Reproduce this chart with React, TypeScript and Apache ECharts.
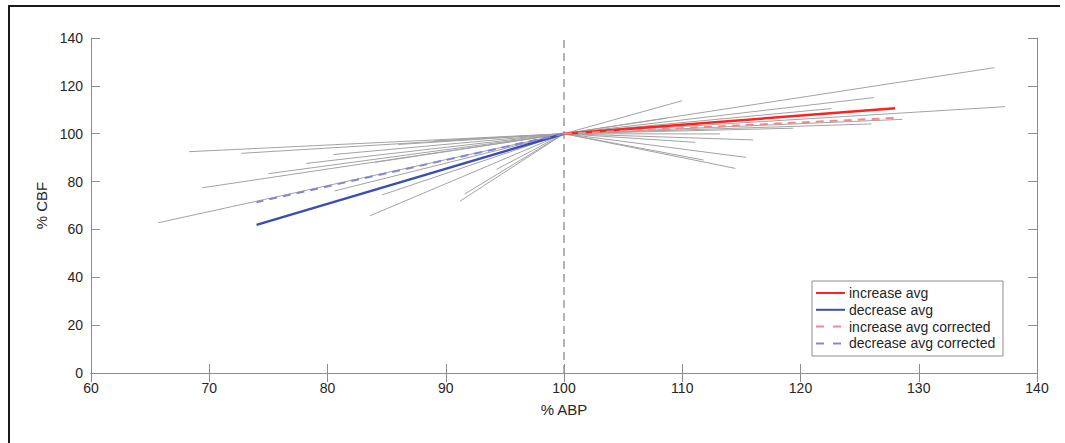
import React, { useEffect, useRef } from "react";
import * as echarts from "echarts";

// Common origin of every trace (% ABP, % CBF)
const origin: [number, number] = [100, 100];

// End points of individual traces where ABP decreased
const decreaseEnds: [number, number][] = [
  [68.3, 92.5],
  [72.7, 91.8],
  [80.5, 91.3],
  [78.2, 87.6],
  [75.0, 83.3],
  [69.4, 77.4],
  [65.7, 62.8],
  [80.6, 76.1],
  [83.6, 65.7],
  [84.6, 74.4],
  [91.2, 71.8],
  [91.6, 74.8],
  [94.3, 85.1],
  [84.0, 88.0],
  [86.0, 95.5],
  [89.0, 97.0],
];

// End points of individual traces where ABP increased
const increaseEnds: [number, number][] = [
  [110.0, 113.8],
  [136.4, 127.6],
  [126.2, 115.1],
  [122.6, 110.5],
  [137.3, 111.3],
  [128.6, 106.0],
  [126.0, 104.1],
  [119.4, 102.3],
  [113.2, 99.9],
  [116.0, 97.4],
  [111.1, 96.4],
  [115.4, 90.1],
  [114.5, 85.5],
  [111.8, 89.0],
  [108.7, 106.5],
];

// Group averages
const increaseAvg: [number, number] = [128.0, 110.6];
const decreaseAvg: [number, number] = [74.0, 61.9];
const increaseAvgCorrected: [number, number] = [128.0, 106.6];
const decreaseAvgCorrected: [number, number] = [74.0, 71.4];

const legendNames = [
  "increase avg",
  "decrease avg",
  "increase avg corrected",
  "decrease avg corrected",
];

const xTicks = { min: 60, max: 140, interval: 10 };
const yTicks = { min: 0, max: 140, interval: 20 };

const FONT = "'Liberation Sans', Arial, Helvetica, sans-serif";
const AXIS_COLOR = "#8c8c8c";
const TEXT_COLOR = "#262626";

const avgStyles = [
  { color: "#ff2020", dashed: false },
  { color: "#3b4cb4", dashed: false },
  { color: "#f28a8a", dashed: true },
  { color: "#8585d6", dashed: true },
];

export default function App() {
  const ref = useRef<HTMLDivElement>(null);

  useEffect(() => {
    if (!ref.current) return;
    const chart = echarts.init(ref.current, undefined, { renderer: "svg" });

    const traceSeries = [...decreaseEnds, ...increaseEnds].map((end, i) => ({
      type: "line",
      name: "trace" + i,
      data: [origin, end],
      symbol: "none",
      silent: true,
      lineStyle: { color: "#a3a3a3", width: 1 },
      z: 2,
    }));

    const avgEnds = [increaseAvg, decreaseAvg, increaseAvgCorrected, decreaseAvgCorrected];
    const avgSeries = avgEnds.map((end, i) => ({
      type: "line",
      name: legendNames[i],
      data: [origin, end],
      symbol: "none",
      silent: true,
      lineStyle: {
        color: avgStyles[i].color,
        width: avgStyles[i].dashed ? 2 : 2.5,
        type: avgStyles[i].dashed ? [8, 6] : "solid",
      },
      z: 4,
    }));

    // Boxed legend in the lower right of the plot
    const lgX = 812;
    const lgY = 281;
    const lgRow = 16.8;
    const legendGraphics: any[] = [
      {
        type: "rect",
        shape: { x: lgX, y: lgY, width: 191, height: 75 },
        style: { fill: "#ffffff", stroke: AXIS_COLOR, lineWidth: 1 },
        z: 10,
        silent: true,
      },
    ];
    legendNames.forEach((name, i) => {
      const cy = lgY + 12 + i * lgRow;
      legendGraphics.push({
        type: "line",
        shape: { x1: lgX + 4, y1: cy, x2: lgX + 33, y2: cy },
        style: {
          stroke: avgStyles[i].color,
          lineWidth: 2,
          lineDash: avgStyles[i].dashed ? [8, 9] : null,
        },
        z: 11,
        silent: true,
      });
      legendGraphics.push({
        type: "text",
        x: lgX + 37,
        y: cy,
        style: {
          text: name,
          fontSize: 14,
          fontFamily: FONT,
          fill: TEXT_COLOR,
          verticalAlign: "middle",
          align: "left",
        },
        z: 11,
        silent: true,
      });
    });

    const axisCommon = {
      type: "value",
      axisLine: { show: true, lineStyle: { color: AXIS_COLOR, width: 1 } },
      axisTick: {
        show: true,
        inside: true,
        length: 9,
        lineStyle: { color: AXIS_COLOR, width: 1 },
      },
      splitLine: { show: false },
    };

    chart.setOption({
      animation: false,
      backgroundColor: "#ffffff",
      grid: { left: 91, top: 38, width: 946, height: 335, containLabel: false },
      xAxis: [
        {
          ...axisCommon,
          ...xTicks,
          position: "bottom",
          axisLabel: {
            margin: 8,
            fontSize: 14,
            color: TEXT_COLOR,
            fontFamily: FONT,
          },
          name: "% ABP",
          nameLocation: "middle",
          nameGap: 29,
          nameTextStyle: { fontSize: 15, color: TEXT_COLOR, fontFamily: FONT },
        },
        {
          ...axisCommon,
          ...xTicks,
          position: "top",
          axisLabel: { show: false },
        },
      ],
      yAxis: [
        {
          ...axisCommon,
          ...yTicks,
          position: "left",
          axisLabel: {
            margin: 8,
            fontSize: 14,
            color: TEXT_COLOR,
            fontFamily: FONT,
          },
          name: "% CBF",
          nameLocation: "middle",
          nameRotate: 90,
          nameGap: 42,
          nameTextStyle: { fontSize: 15, color: TEXT_COLOR, fontFamily: FONT },
        },
        {
          ...axisCommon,
          ...yTicks,
          position: "right",
          axisLabel: { show: false },
        },
      ],
      graphic: [
        {
          type: "line",
          shape: { x1: 8, y1: 6, x2: 1060, y2: 6 },
          style: { stroke: "#1a1a1a", lineWidth: 2 },
          silent: true,
        },
        {
          type: "line",
          shape: { x1: 9, y1: 5, x2: 9, y2: 443 },
          style: { stroke: "#1a1a1a", lineWidth: 2 },
          silent: true,
        },
        ...legendGraphics,
      ],
      series: [
        ...traceSeries,
        {
          type: "line",
          name: "zero change",
          data: [
            [origin[0], yTicks.min],
            [origin[0], yTicks.max],
          ],
          symbol: "none",
          silent: true,
          lineStyle: { color: "#9a9a9a", width: 1.5, type: [8, 5] },
          z: 3,
        },
        ...avgSeries,
      ],
    });

    return () => chart.dispose();
  }, []);

  return (
    <div
      ref={ref}
      style={{ position: "fixed", left: 0, top: 0, width: 1065, height: 443 }}
    />
  );
}
